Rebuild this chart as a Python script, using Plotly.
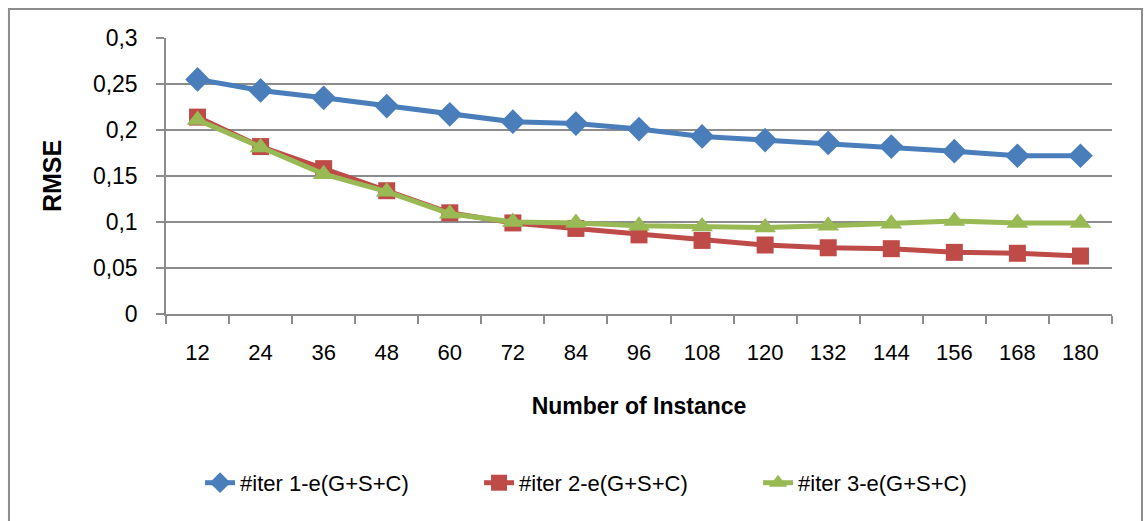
import plotly.graph_objects as go

# Instance counts on the category axis
instances = ["12", "24", "36", "48", "60", "72", "84", "96", "108",
             "120", "132", "144", "156", "168", "180"]

# RMSE per iteration
iter1 = [0.255, 0.243, 0.235, 0.226, 0.217, 0.209, 0.207, 0.201, 0.193,
         0.189, 0.186, 0.182, 0.177, 0.172, 0.172]
iter2 = [0.214, 0.182, 0.158, 0.134, 0.110, 0.099, 0.093, 0.086, 0.080,
         0.075, 0.072, 0.071, 0.067, 0.066, 0.063]
iter3 = [0.211, 0.181, 0.152, 0.133, 0.109, 0.100, 0.099, 0.096, 0.095,
         0.094, 0.096, 0.098, 0.101, 0.099, 0.099]

y_ticks = [0, 0.05, 0.1, 0.15, 0.2, 0.25, 0.3]
y_tick_text = ["0", "0,05", "0,1", "0,15", "0,2", "0,25", "0,3"]

FONT = "Liberation Sans"
GRID = "#8c8c8c"

fig = go.Figure()
series = [
    ("#iter 1-e(G+S+C)", iter1, "#4a7ebb", "diamond", 19),
    ("#iter 2-e(G+S+C)", iter2, "#be4b48", "square", 17),
    ("#iter 3-e(G+S+C)", iter3, "#98b954", "triangle-up", 19),
]
for name, vals, color, symbol, size in series:
    fig.add_trace(go.Scatter(
        x=instances, y=vals, name=name, mode="lines+markers",
        line=dict(color=color, width=5),
        marker=dict(symbol=symbol, size=size, color=color,
                    line=dict(width=0)),
    ))

# Outer chart frame
fig.add_shape(type="rect", xref="paper", yref="paper",
              x0=-0.166, x1=1.0317, y0=-0.8, y1=1.105,
              line=dict(color="#8c8c8c", width=2), layer="below")

fig.update_layout(
    width=1144, height=521,
    margin=dict(l=166, r=32, t=38, b=207),
    paper_bgcolor="white", plot_bgcolor="white",
    font=dict(family=FONT, color="black", size=22),
    showlegend=True,
    legend=dict(orientation="h", x=0.036, xanchor="left",
                y=-0.612, yanchor="middle",
                font=dict(family=FONT, size=22, color="black"),
                entrywidth=234, itemsizing="trace"),
    xaxis=dict(
        type="category", tickson="boundaries", range=[-0.5, 14.5],
        showgrid=False, showline=True, linecolor=GRID, linewidth=1.5,
        ticks="outside", ticklen=8, tickcolor=GRID, tickwidth=1.5,
        ticklabelstandoff=18,
        tickfont=dict(family=FONT, size=22),
        title=dict(text="<b>Number of Instance</b>", standoff=34,
                   font=dict(family=FONT, size=23)),
    ),
    yaxis=dict(
        range=[0, 0.3], tickvals=y_ticks, ticktext=y_tick_text,
        showgrid=True, gridcolor=GRID, gridwidth=1.5,
        showline=True, linecolor=GRID, linewidth=1.5,
        zeroline=False,
        ticks="outside", ticklen=8, tickcolor=GRID, tickwidth=1.5,
        ticklabelstandoff=14,
        tickfont=dict(family=FONT, size=23),
        title=dict(text="<b>RMSE</b>", standoff=24,
                   font=dict(family=FONT, size=25)),
    ),
)

fig.write_html("out.html")
